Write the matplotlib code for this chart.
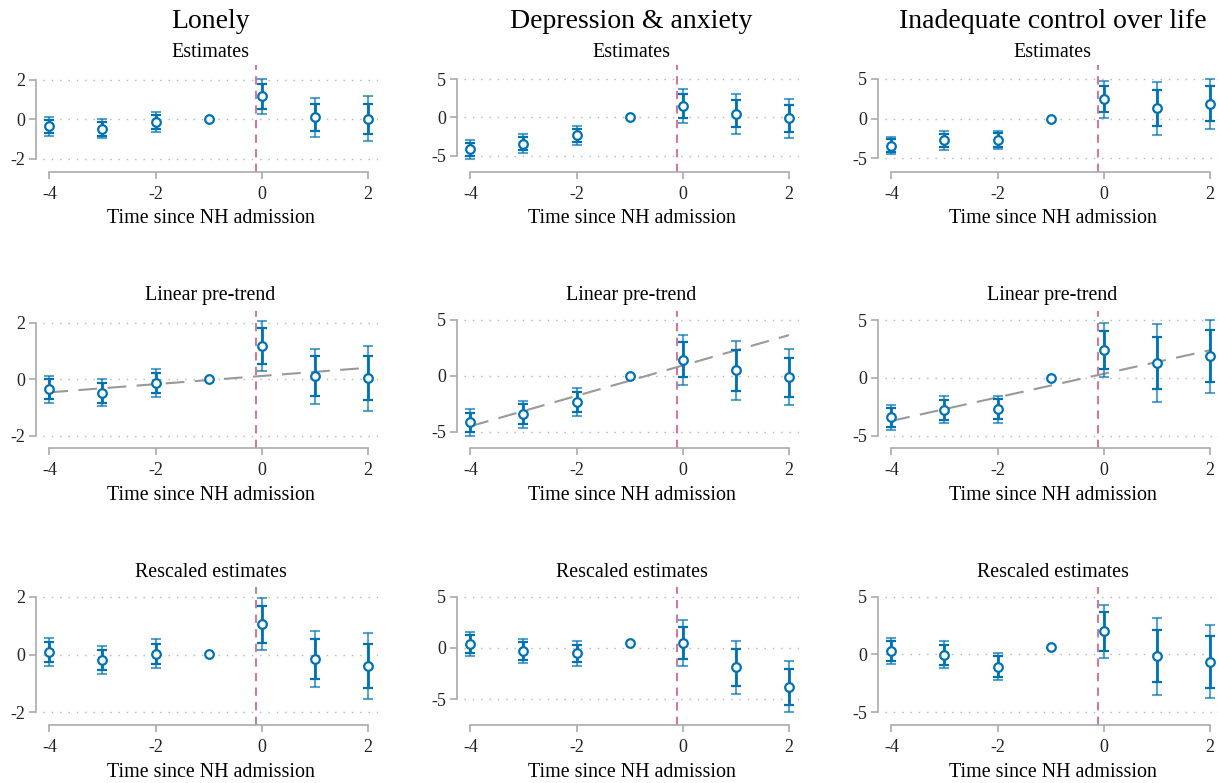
import numpy as np
import matplotlib
matplotlib.use('Agg')
import matplotlib.pyplot as plt

plt.rcParams['font.family'] = 'Liberation Serif'
plt.rcParams['axes.unicode_minus'] = False

# Event time relative to nursing home admission
periods = [-4, -3, -2, -1, 0, 1, 2]
xticks = [-4, -2, 0, 2]

outcomes = ['Lonely', 'Depression & anxiety', 'Inadequate control over life']
row_titles = ['Estimates', 'Linear pre-trend', 'Rescaled estimates']
xlabel = 'Time since NH admission'

# Point estimates (t = -1 is the reference period)
est_lonely = [-0.36, -0.48, -0.13, 0.0, 1.17, 0.10, 0.03]
est_depr = [-4.17, -3.43, -2.35, 0.0, 1.43, 0.48, -0.13]
est_control = [-3.42, -2.75, -2.71, 0.0, 2.42, 1.29, 1.88]

# Half widths: pointwise CI (inner) and wider band (outer)
ci_lonely = [0.35, 0.35, 0.35, np.nan, 0.64, 0.70, 0.77]
band_lonely = [0.48, 0.49, 0.50, np.nan, 0.90, 0.98, 1.15]
ci_depr = [0.87, 0.87, 0.86, np.nan, 1.56, 1.80, 1.76]
band_depr = [1.20, 1.20, 1.22, np.nan, 2.22, 2.61, 2.50]
ci_control = [0.84, 0.86, 0.88, np.nan, 1.65, 2.25, 2.25]
band_control = [1.10, 1.16, 1.18, np.nan, 2.32, 3.35, 3.15]

# Estimates after removing the linear pre-trend
resc_lonely = [0.09, -0.18, 0.03, 0.02, 1.05, -0.15, -0.39]
resc_depr = [0.36, -0.29, -0.55, 0.46, 0.46, -1.89, -3.78]
resc_control = [0.32, -0.03, -1.04, 0.63, 1.99, -0.17, -0.61]

# Fitted pre-trend line, read at t = -4 and t = 2
trend_x = [-4, 2]
trend_lonely = [-0.47, 0.40]
trend_depr = [-4.51, 3.64]
trend_control = [-3.72, 2.39]

yticks = [[-2, 0, 2], [-5, 0, 5], [-5, 0, 5]]

est_all = [est_lonely, est_depr, est_control]
ci_all = [ci_lonely, ci_depr, ci_control]
band_all = [band_lonely, band_depr, band_control]
resc_all = [resc_lonely, resc_depr, resc_control]
trend_all = [trend_lonely, trend_depr, trend_control]

# layout (pixels)
W, H = 1219, 783
col_left = [43, 464, 885]
ax_w = 335
row_top = [65, 311, 587]
row_bot = [171.7, 448, 725]
ylims = [[(-2.66, 2.76), (-7.09, 6.83), (-6.7, 6.75)],
         [(-2.44, 2.41), (-6.46, 5.8), (-6.06, 5.78)],
         [(-2.44, 2.34), (-7.54, 5.95), (-6.1, 5.84)]]
title_base = [57, 300, 577]
xlabel_base = [223, 500, 777]

dark = '#0072B2'
pink = '#CC79A7'
spine_col = '#aaaaaa'


def draw_points(ax, y, ci, band):
    y = np.array(y, dtype=float)
    ci = np.array(ci, dtype=float)
    band = np.array(band, dtype=float)
    ok = ~np.isnan(ci)
    x = np.array(periods)
    ax.errorbar(x[ok], y[ok], yerr=band[ok], fmt='none', ecolor=dark, alpha=0.65,
                elinewidth=1.5, capsize=3.6, capthick=1.5, zorder=3)
    ax.errorbar(x[ok], y[ok], yerr=ci[ok], fmt='none', ecolor=dark,
                elinewidth=2.0, capsize=3.6, capthick=1.6, zorder=4)
    ax.plot(x, y, 'o', mfc='white', mec=dark, mew=1.6, ms=6.2, zorder=5)


fig = plt.figure(figsize=(W / 100, H / 100), dpi=100)

for r in range(3):
    for c in range(3):
        rect = [col_left[c] / W, 1 - row_bot[r] / H, ax_w / W, (row_bot[r] - row_top[r]) / H]
        ax = fig.add_axes(rect)
        ax.set_xlim(-4.12, 2.19)
        ax.set_ylim(*ylims[r][c])

        if r < 2:
            draw_points(ax, est_all[c], ci_all[c], band_all[c])
        else:
            draw_points(ax, resc_all[c], ci_all[c], band_all[c])
        if r == 1:
            ax.plot(trend_x, trend_all[c], color='#999999', lw=1.5,
                    ls=(0, (9, 5)), zorder=2)
        ax.axvline(-0.1, color=pink, lw=1.5, ls=(0, (4, 3)), zorder=2)

        ax.set_xticks(xticks)
        ax.set_yticks(yticks[c])
        ax.yaxis.grid(True, ls=(0, (1, 5)), color='#b5b5b5', lw=1.0)
        ax.set_axisbelow(True)
        for s in ['top', 'right']:
            ax.spines[s].set_visible(False)
        ax.spines['left'].set_position(('outward', 5))
        ax.spines['left'].set_bounds(yticks[c][0], yticks[c][-1])
        ax.spines['bottom'].set_bounds(-4, 2)
        for s in ['left', 'bottom']:
            ax.spines[s].set_color(spine_col)
            ax.spines[s].set_linewidth(1.2)
        ax.tick_params(length=5, width=1.2, color=spine_col, labelsize=13,
                       labelcolor='#222222', pad=3)
        ax.tick_params(axis='x', pad=5)

        xc = (col_left[c] + ax_w / 2) / W
        fig.text(xc, 1 - title_base[r] / H, row_titles[r], ha='center',
                 va='baseline', fontsize=14.4)
        fig.text(xc, 1 - xlabel_base[r] / H, xlabel, ha='center',
                 va='baseline', fontsize=14.4)
        if r == 0:
            fig.text(xc, 1 - 28 / H, outcomes[c], ha='center', va='baseline',
                     fontsize=20)

fig.savefig('out.png', dpi=100)
